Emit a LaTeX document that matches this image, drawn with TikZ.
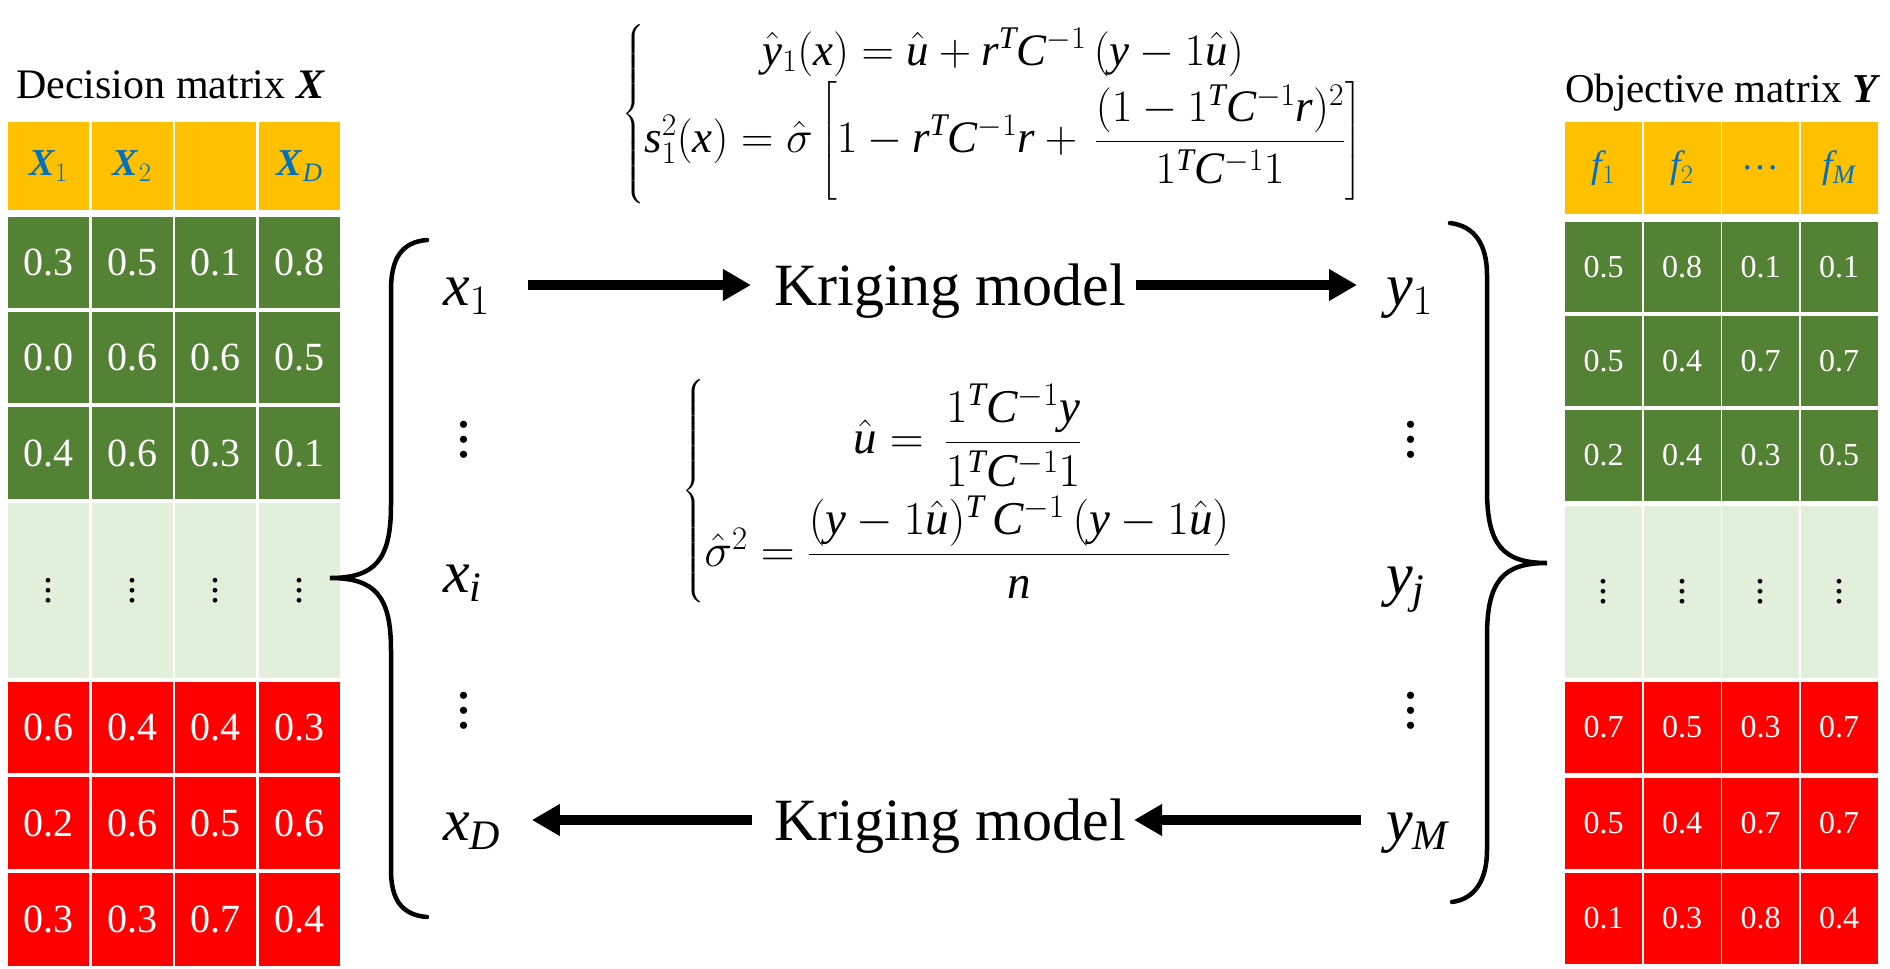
\RequirePackage{fix-cm}
\documentclass[tikz,border=0pt]{standalone}
\usepackage{amsmath}
\usepackage{fontspec}
\setmainfont{Liberation Serif}
\newfontfamily\timesmath{Liberation Serif}[NFSSFamily=ltimes]
\usepackage{tikz}
\usetikzlibrary{arrows.meta}

% Times-like letters and digits in math
\DeclareSymbolFont{tletters}{TU}{ltimes}{m}{it}
\DeclareSymbolFont{tdigits}{TU}{ltimes}{m}{n}
\makeatletter
\@tempcnta=`a
\loop \Umathcode\@tempcnta="7 \symtletters \@tempcnta\relax \ifnum\@tempcnta<`z \advance\@tempcnta by 1 \repeat
\@tempcnta=`A
\loop \Umathcode\@tempcnta="7 \symtletters \@tempcnta\relax \ifnum\@tempcnta<`Z \advance\@tempcnta by 1 \repeat
\@tempcnta=`0
\loop \Umathcode\@tempcnta="0 \symtdigits \@tempcnta\relax \ifnum\@tempcnta<`9 \advance\@tempcnta by 1 \repeat
\Umathcode`(="4 \symtdigits `(
\Umathcode`)="5 \symtdigits `)
\makeatother

% vertical dots that grow with the font
\newcommand{\vdts}{\vbox{\baselineskip=.25em\lineskiplimit=0pt\hbox{.}\hbox{.}\hbox{.}}}

\definecolor{corange}{HTML}{FFC000}
\definecolor{cgreen}{HTML}{548235}
\definecolor{clight}{HTML}{E2EFDA}
\definecolor{cred}{HTML}{FF0000}
\definecolor{cblue}{HTML}{0070C0}

\begin{document}
\begin{tikzpicture}[x=1pt, y=-1pt,
	cellL/.style={minimum width=81pt, inner sep=0, text=white, font=\fontsize{40}{48}\selectfont},
	cellR/.style={minimum width=77pt, inner sep=0, text=white, font=\fontsize{32}{38}\selectfont},
	head/.style={fill=corange, text=cblue, inner sep=0, font=\fontsize{38}{46}\selectfont},
	title/.style={inner sep=0, anchor=base west, font=\fontsize{42}{50}\selectfont},
	lbl/.style={inner sep=0, text height=40pt, text depth=0pt, font=\fontsize{60}{72}\selectfont},
	eqn/.style={inner sep=0, anchor=west, font=\fontsize{45}{54}\selectfont},
	kriarrow/.style={line width=10pt, arrows=-{Triangle[length=28pt,width=30pt]}},
	brace/.style={line width=4.5pt, line cap=round}]
	\useasboundingbox (0,0) rectangle (1890,969);

	% decision matrix X
	\node[title] (xtitle) at (16,98) {Decision matrix \textbf{\textit{X}}};
	\foreach \v [count=\c] in {$\textbf{\textit{X}}_1$,$\textbf{\textit{X}}_2$,{},$\textbf{\textit{X}}_D$}
		\node[cellL, head, minimum height=88pt] (XH\c) at ({48.5+(\c-1)*83.7}, 166) {\v};
	\foreach \r/\yc/\h/\col/\vals in {1/262/91/cgreen/{0.3,0.5,0.1,0.8}, 2/357/91/cgreen/{0.0,0.6,0.6,0.5}, 3/453/92/cgreen/{0.4,0.6,0.3,0.1}, 5/727.5/91/cred/{0.6,0.4,0.4,0.3}, 6/823/92/cred/{0.2,0.6,0.5,0.6}, 7/919.5/93/cred/{0.3,0.3,0.7,0.4}}
		\foreach \v [count=\c] in \vals
			\node[cellL, fill=\col, minimum height=\h pt] (X\r\c) at ({48.5+(\c-1)*83.7}, \yc) {\v};
	\foreach \c in {1,...,4}
		\node[cellL, fill=clight, text=black, minimum height=175pt] (X4\c) at ({48.5+(\c-1)*83.7}, 590.5) {\vdts};

	% objective matrix Y
	\node[title, font=\fontsize{41}{50}\selectfont] (ytitle) at (1565,102) {Objective matrix \textbf{\textit{Y}}};
	\foreach \v [count=\c] in {$f_1$,$f_2$,\ldots,$f_M$}
		\node[cellR, head, minimum height=92pt] (YH\c) at ({1603.5+(\c-1)*78.5}, 168) {\v};
	\foreach \r/\yc/\h/\col/\vals in {1/267/90/cgreen/{0.5,0.8,0.1,0.1}, 2/361/90/cgreen/{0.5,0.4,0.7,0.7}, 3/455.5/91/cgreen/{0.2,0.4,0.3,0.5}, 5/727.5/91/cred/{0.7,0.5,0.3,0.7}, 6/823.5/91/cred/{0.5,0.4,0.7,0.7}, 7/918.5/91/cred/{0.1,0.3,0.8,0.4}}
		\foreach \v [count=\c] in \vals
			\node[cellR, fill=\col, minimum height=\h pt] (Y\r\c) at ({1603.5+(\c-1)*78.5}, \yc) {\v};
	\foreach \c in {1,...,4}
		\node[cellR, fill=clight, text=black, minimum height=172pt, font=\fontsize{40}{48}\selectfont] (Y4\c) at ({1603.5+(\c-1)*78.5}, 592) {\vdts};

	% braces
	\draw[brace] (427,240) .. controls (402,242) and (391,258) .. (391,290) -- (391,505) .. controls (391,560) and (375,578) .. (330,578) .. controls (375,578) and (391,596) .. (391,650) -- (391,870) .. controls (391,900) and (402,915) .. (427,917);
	\draw[brace] (1450,223) .. controls (1475,226) and (1487,245) .. (1487,275) -- (1487,490) .. controls (1487,545) and (1503,563) .. (1547,563) .. controls (1503,563) and (1487,581) .. (1487,636) -- (1487,850) .. controls (1487,880) and (1475,899) .. (1452,902);

	% variables and models
	\node[lbl, anchor=base west] (x1) at (443,305) {$x_1$};
	\node[lbl, anchor=base west] (xi) at (443,592) {$x_i$};
	\node[lbl, anchor=base west] (xD) at (443,840) {$x_D$};
	\node[inner sep=0, font=\fontsize{60}{72}\selectfont] (xd1) at (464,440) {\vdts};
	\node[inner sep=0, font=\fontsize{60}{72}\selectfont] (xd2) at (464,711) {\vdts};
	\node[lbl, anchor=base west] (y1) at (1386,305) {$y_1$};
	\node[lbl, anchor=base west] (yj) at (1386,594) {$y_j$};
	\node[lbl, anchor=base west] (yM) at (1386,840) {$y_M$};
	\node[inner sep=0, font=\fontsize{60}{72}\selectfont] (yd1) at (1411,440) {\vdts};
	\node[inner sep=0, font=\fontsize{60}{72}\selectfont] (yd2) at (1411,711) {\vdts};
	\node[lbl, anchor=base] (km1) at (950,305) {Kriging model};
	\node[lbl, anchor=base] (km2) at (950,840) {Kriging model};

	\draw[kriarrow, shorten <=38pt, shorten >=23pt] (x1) -- (km1);
	\draw[kriarrow, shorten <=10pt, shorten >=29pt] (km1) -- (y1);
	\draw[kriarrow, shorten <=25pt, shorten >=8pt] (yM) -- (km2);
	\draw[kriarrow, shorten <=22pt, shorten >=31pt] (km2) -- (xD);

	% equations
	\node[eqn] (eqtop) at (622,114) {$\left\{\begin{array}{@{}c@{}}
		\hat{y}_1(x)=\hat{u}+r^{T}C^{-1}\,(y-1\hat{u})\\
		s_1^2(x)=\hat{\sigma}\left[1-r^{T}C^{-1}r+\,\dfrac{(1-1^{T}C^{-1}r)^2}{1^{T}C^{-1}1}\right]
	\end{array}\right.$};
	\node[eqn, font=\fontsize{47}{56}\selectfont] (eqmid) at (682,491) {$\left\{\begin{array}{@{}c@{}}
		\hat{u}=\,\dfrac{1^{T}C^{-1}y}{1^{T}C^{-1}1}\\[25pt]
		\hat{\sigma}^2=\dfrac{(y-1\hat{u})^{T}\,C^{-1}\,(y-1\hat{u})}{n}
	\end{array}\right.$};
\end{tikzpicture}
\end{document}
